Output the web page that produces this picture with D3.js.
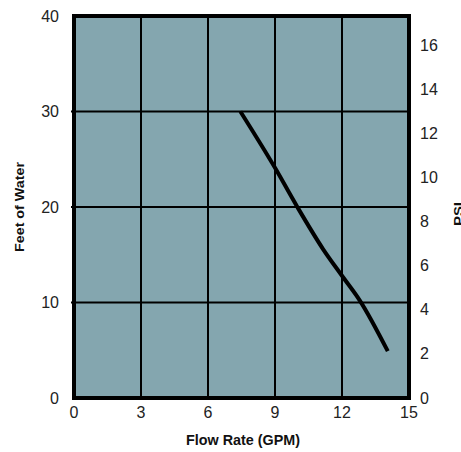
<!DOCTYPE html>
<html><head><meta charset="utf-8">
<script src="https://cdn.jsdelivr.net/npm/d3@7"></script>
<style>
body{margin:0;background:#fff;}
svg{display:block;}
</style></head>
<body>
<svg id="chart" width="461" height="452"></svg>
<script>
// Data
const flowRate = [7.45, 9.0, 10.0, 11.15, 12.0, 12.8, 14.05];
const feetOfWater = [30.0, 24.1, 20.0, 15.6, 12.8, 10.2, 4.9];
const xTicks = [0, 3, 6, 9, 12, 15];
const yTicks = [0, 10, 20, 30, 40];
const psiTicks = [0, 2, 4, 6, 8, 10, 12, 14, 16];
const feetPerPsi = 2.31;

const svg = d3.select("#chart");
const L = 74, R = 409, T = 16, B = 398;
const x = d3.scaleLinear().domain([0, 15]).range([L, R]);
const y = d3.scaleLinear().domain([0, 40]).range([B, T]);
const yPsi = d3.scaleLinear().domain([0, 40 / feetPerPsi]).range([B, T]);

// background
svg.append("rect").attr("x", L).attr("y", T).attr("width", R - L).attr("height", B - T)
  .attr("fill", "#84a6af");

// grid
svg.append("g").selectAll("line").data(xTicks.slice(1, -1)).join("line")
  .attr("x1", d => x(d)).attr("x2", d => x(d)).attr("y1", T).attr("y2", B)
  .attr("stroke", "#000").attr("stroke-width", 2);
svg.append("g").selectAll("line").data(yTicks.slice(1, -1)).join("line")
  .attr("x1", L - 3).attr("x2", R).attr("y1", d => y(d)).attr("y2", d => y(d))
  .attr("stroke", "#000").attr("stroke-width", 2);

// border
svg.append("rect").attr("x", L).attr("y", T).attr("width", R - L).attr("height", B - T)
  .attr("fill", "none").attr("stroke", "#000").attr("stroke-width", 4);

// curve
const line = d3.line().x((d, i) => x(flowRate[i])).y((d, i) => y(feetOfWater[i]))
  .curve(d3.curveMonotoneX);
svg.append("path").datum(flowRate).attr("d", line)
  .attr("fill", "none").attr("stroke", "#000").attr("stroke-width", 4);

const tickFont = "'Liberation Sans', Arial, Helvetica, sans-serif";
// left axis labels
svg.append("g").selectAll("text").data(yTicks).join("text")
  .attr("x", 59).attr("y", d => y(d)).attr("dy", "0.35em")
  .attr("text-anchor", "end").attr("font-family", tickFont).attr("font-size", 16)
  .attr("fill", "#222").text(d => d);
// bottom labels
svg.append("g").selectAll("text").data(xTicks).join("text")
  .attr("x", d => x(d)).attr("y", 412).attr("dy", "0.35em")
  .attr("text-anchor", "middle").attr("font-family", tickFont).attr("font-size", 16)
  .attr("fill", "#222").text(d => d);
// right labels
svg.append("g").selectAll("text").data(psiTicks).join("text")
  .attr("x", 420).attr("y", d => yPsi(d)).attr("dy", "0.35em")
  .attr("text-anchor", "start").attr("font-family", tickFont).attr("font-size", 16)
  .attr("fill", "#222").text(d => d);

const titleFont = "'Liberation Sans', Arial, sans-serif";
svg.append("text").attr("x", 186).attr("y", 445)
  .attr("font-family", titleFont).attr("font-weight", "bold").attr("font-size", 14)
  .attr("textLength", 114).attr("lengthAdjust", "spacingAndGlyphs")
  .attr("fill", "#111").text("Flow Rate (GPM)");
svg.append("text").attr("transform", "translate(24,252) rotate(-90)")
  .attr("font-family", titleFont).attr("font-weight", "bold").attr("font-size", 13)
  .attr("textLength", 90).attr("lengthAdjust", "spacingAndGlyphs")
  .attr("fill", "#111").text("Feet of Water");
svg.append("text").attr("transform", "translate(463,226) rotate(-90)")
  .attr("font-family", titleFont).attr("font-weight", "bold").attr("font-size", 13)
  .attr("textLength", 24).attr("lengthAdjust", "spacingAndGlyphs")
  .attr("fill", "#111").text("PSI");
</script>
</body></html>
